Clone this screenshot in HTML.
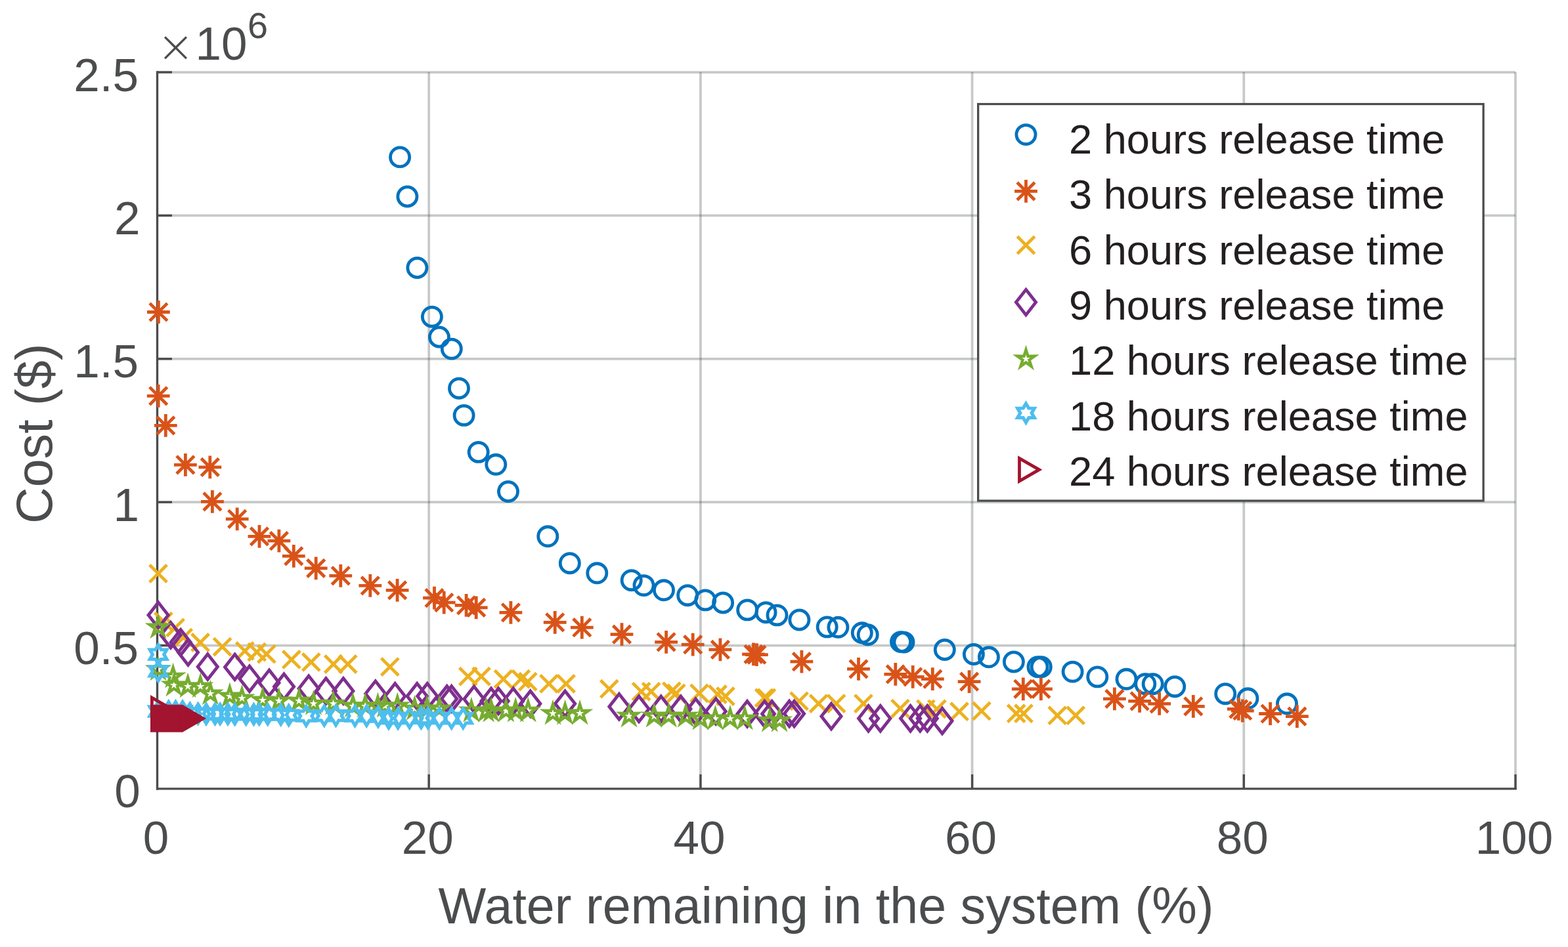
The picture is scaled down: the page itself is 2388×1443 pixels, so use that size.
<!DOCTYPE html><html><head><meta charset="utf-8"><title>Cost vs water remaining</title><style>html,body{margin:0;padding:0;background:#fff;}svg{display:block;}text{font-family:"Liberation Sans",sans-serif;}</style></head><body>
<svg width="2388" height="1443" viewBox="0 0 2388 1443">

<defs>
<g id="mo"><circle r="14.55" fill="none" stroke-width="4.8"/></g>
<g id="ma"><path d="M0,-17.4V17.4M-17.4,0H17.4M-13.4,-13.4L13.4,13.4M-13.4,13.4L13.4,-13.4" fill="none" stroke-width="4.8"/></g>
<g id="mx"><path d="M-13.2,-13.2L13.2,13.2M-13.2,13.2L13.2,-13.2" fill="none" stroke-width="4.8"/></g>
<g id="md"><path d="M0,-19.3L15.1,0L0,19.3L-15.1,0Z" fill="none" stroke-width="4.8" stroke-linejoin="miter"/></g>
<g id="mp"><polygon points="0.00,-14.00 3.06,-4.21 13.31,-4.33 4.95,1.61 8.23,11.33 0.00,5.20 -8.23,11.33 -4.95,1.61 -13.31,-4.33 -3.06,-4.21" fill="none" stroke-width="4.4" stroke-linejoin="miter" stroke-miterlimit="10"/></g>
<g id="mh"><polygon transform="scale(1.03,1)" points="0.00,-14.40 4.20,-7.27 12.47,-7.20 8.40,0.00 12.47,7.20 4.20,7.27 0.00,14.40 -4.20,7.27 -12.47,7.20 -8.40,0.00 -12.47,-7.20 -4.20,-7.27" fill="none" stroke-width="5.0" stroke-linejoin="miter" stroke-miterlimit="10"/></g>
<g id="mt"><path d="M20,0L-10,-17.32L-10,17.32Z" fill="none" stroke-width="4.8" stroke-linejoin="miter" stroke-miterlimit="10"/></g>
</defs>
<rect width="2388" height="1443" fill="#fff"/>
<g stroke="#4b4c4e" stroke-opacity="0.31" stroke-width="3.7"><line x1="653.20" y1="110.05" x2="653.20" y2="1201.90"/><line x1="1066.90" y1="110.05" x2="1066.90" y2="1201.90"/><line x1="1480.60" y1="110.05" x2="1480.60" y2="1201.90"/><line x1="1894.30" y1="110.05" x2="1894.30" y2="1201.90"/><line x1="2308.00" y1="110.05" x2="2308.00" y2="1201.90"/><line x1="239.50" y1="983.53" x2="2308.00" y2="983.53"/><line x1="239.50" y1="765.16" x2="2308.00" y2="765.16"/><line x1="239.50" y1="546.79" x2="2308.00" y2="546.79"/><line x1="239.50" y1="328.42" x2="2308.00" y2="328.42"/><line x1="239.50" y1="110.05" x2="2308.00" y2="110.05"/></g>
<g stroke="#4b4c4e" stroke-width="3.4" stroke-linecap="butt"><line x1="239.50" y1="108.25" x2="239.50" y2="1203.80"/><line x1="238.00" y1="1201.90" x2="2309.90" y2="1201.90"/><line x1="653.20" y1="1201.90" x2="653.20" y2="1179.90"/><line x1="1066.90" y1="1201.90" x2="1066.90" y2="1179.90"/><line x1="1480.60" y1="1201.90" x2="1480.60" y2="1179.90"/><line x1="1894.30" y1="1201.90" x2="1894.30" y2="1179.90"/><line x1="2308.00" y1="1201.90" x2="2308.00" y2="1179.90"/><line x1="239.50" y1="983.53" x2="262.00" y2="983.53"/><line x1="239.50" y1="765.16" x2="262.00" y2="765.16"/><line x1="239.50" y1="546.79" x2="262.00" y2="546.79"/><line x1="239.50" y1="328.42" x2="262.00" y2="328.42"/><line x1="239.50" y1="110.05" x2="262.00" y2="110.05"/></g>
<g fill="#4b4c4e" font-size="71"><text x="237.5" y="1300.5" text-anchor="middle">0</text><text x="651.2" y="1300.5" text-anchor="middle">20</text><text x="1064.9" y="1300.5" text-anchor="middle">40</text><text x="1478.6" y="1300.5" text-anchor="middle">60</text><text x="1892.3" y="1300.5" text-anchor="middle">80</text><text x="2306.0" y="1300.5" text-anchor="middle">100</text><text x="213.7" y="1230.4" text-anchor="end">0</text><text x="211.0" y="1012.0" text-anchor="end">0.5</text><text x="212.0" y="793.7" text-anchor="end">1</text><text x="211.0" y="575.3" text-anchor="end">1.5</text><text x="213.5" y="356.9" text-anchor="end">2</text><text x="211.0" y="138.5" text-anchor="end">2.5</text></g>
<text x="1258" y="1406.8" text-anchor="middle" font-size="77.2" fill="#4b4c4e">Water remaining in the system (%)</text>
<text transform="translate(78.5,660.8) rotate(-90)" text-anchor="middle" font-size="77.2" fill="#4b4c4e">Cost ($)</text>
<text x="239" y="94" font-size="68" fill="#4b4c4e" style="font-family:&quot;DejaVu Sans&quot;,sans-serif;font-weight:200">×</text>
<text x="297.5" y="91.3" font-size="71" fill="#4b4c4e">10</text>
<text x="377" y="57.5" font-size="55.7" fill="#4b4c4e">6</text>
<g stroke="#0072bd" fill="none"><use href="#mo" x="609.1" y="239.4"/><use href="#mo" x="620.4" y="299.5"/><use href="#mo" x="635.4" y="408.0"/><use href="#mo" x="657.9" y="482.7"/><use href="#mo" x="668.9" y="513.5"/><use href="#mo" x="687.8" y="531.6"/><use href="#mo" x="699.0" y="591.7"/><use href="#mo" x="706.6" y="632.9"/><use href="#mo" x="728.7" y="688.9"/><use href="#mo" x="755.3" y="707.8"/><use href="#mo" x="774.0" y="749.0"/><use href="#mo" x="834.3" y="817.3"/><use href="#mo" x="867.8" y="858.2"/><use href="#mo" x="909.3" y="873.3"/><use href="#mo" x="961.7" y="884.2"/><use href="#mo" x="980.5" y="892.1"/><use href="#mo" x="1011.0" y="899.3"/><use href="#mo" x="1047.2" y="907.2"/><use href="#mo" x="1074.2" y="914.4"/><use href="#mo" x="1101.1" y="918.5"/><use href="#mo" x="1138.2" y="929.4"/><use href="#mo" x="1166.5" y="933.2"/><use href="#mo" x="1183.5" y="937.4"/><use href="#mo" x="1217.4" y="944.5"/><use href="#mo" x="1259.7" y="955.4"/><use href="#mo" x="1276.4" y="955.8"/><use href="#mo" x="1312.8" y="964.3"/><use href="#mo" x="1321.7" y="967.2"/><use href="#mo" x="1372.0" y="978.1"/><use href="#mo" x="1376.5" y="978.6"/><use href="#mo" x="1438.8" y="990.0"/><use href="#mo" x="1482.9" y="997.0"/><use href="#mo" x="1505.9" y="1001.3"/><use href="#mo" x="1543.9" y="1008.5"/><use href="#mo" x="1580.5" y="1016.3"/><use href="#mo" x="1585.8" y="1016.3"/><use href="#mo" x="1633.6" y="1023.6"/><use href="#mo" x="1671.3" y="1031.4"/><use href="#mo" x="1715.5" y="1034.8"/><use href="#mo" x="1744.3" y="1042.2"/><use href="#mo" x="1755.7" y="1042.2"/><use href="#mo" x="1789.2" y="1046.2"/><use href="#mo" x="1866.2" y="1057.2"/><use href="#mo" x="1900.4" y="1064.3"/><use href="#mo" x="1960.0" y="1072.3"/></g>
<g stroke="#d95319" fill="none"><use href="#ma" x="241.4" y="475.5"/><use href="#ma" x="241.2" y="603.3"/><use href="#ma" x="252.3" y="648.4"/><use href="#ma" x="282.4" y="708.3"/><use href="#ma" x="319.8" y="711.9"/><use href="#ma" x="323.4" y="764.3"/><use href="#ma" x="361.2" y="790.8"/><use href="#ma" x="395.0" y="817.4"/><use href="#ma" x="424.9" y="824.2"/><use href="#ma" x="447.3" y="847.4"/><use href="#ma" x="481.2" y="865.9"/><use href="#ma" x="518.8" y="877.3"/><use href="#ma" x="563.8" y="892.4"/><use href="#ma" x="605.1" y="899.4"/><use href="#ma" x="661.5" y="911.2"/><use href="#ma" x="676.2" y="918.2"/><use href="#ma" x="710.1" y="922.3"/><use href="#ma" x="725.2" y="925.9"/><use href="#ma" x="777.9" y="933.3"/><use href="#ma" x="845.2" y="948.3"/><use href="#ma" x="886.3" y="956.2"/><use href="#ma" x="947.0" y="966.7"/><use href="#ma" x="1014.6" y="978.3"/><use href="#ma" x="1055.2" y="982.2"/><use href="#ma" x="1096.9" y="989.9"/><use href="#ma" x="1147.5" y="996.8"/><use href="#ma" x="1152.4" y="997.7"/><use href="#ma" x="1220.9" y="1008.2"/><use href="#ma" x="1307.5" y="1019.4"/><use href="#ma" x="1363.8" y="1027.4"/><use href="#ma" x="1390.2" y="1031.4"/><use href="#ma" x="1420.3" y="1034.7"/><use href="#ma" x="1476.1" y="1038.6"/><use href="#ma" x="1558.3" y="1049.8"/><use href="#ma" x="1585.4" y="1049.8"/><use href="#ma" x="1697.4" y="1064.9"/><use href="#ma" x="1735.6" y="1068.3"/><use href="#ma" x="1765.7" y="1072.3"/><use href="#ma" x="1817.3" y="1076.3"/><use href="#ma" x="1886.3" y="1080.4"/><use href="#ma" x="1892.3" y="1083.0"/><use href="#ma" x="1934.6" y="1087.5"/><use href="#ma" x="1975.4" y="1091.7"/></g>
<g stroke="#edb120" fill="none"><use href="#mx" x="241.0" y="873.9"/><use href="#mx" x="248.9" y="946.7"/><use href="#mx" x="267.1" y="956.3"/><use href="#mx" x="279.2" y="971.6"/><use href="#mx" x="305.1" y="978.9"/><use href="#mx" x="338.6" y="985.6"/><use href="#mx" x="372.9" y="991.9"/><use href="#mx" x="391.2" y="993.6"/><use href="#mx" x="405.9" y="996.6"/><use href="#mx" x="443.9" y="1004.9"/><use href="#mx" x="473.8" y="1008.9"/><use href="#mx" x="507.8" y="1012.0"/><use href="#mx" x="529.7" y="1012.0"/><use href="#mx" x="593.8" y="1016.1"/><use href="#mx" x="712.9" y="1030.7"/><use href="#mx" x="733.0" y="1030.7"/><use href="#mx" x="766.6" y="1034.7"/><use href="#mx" x="793.3" y="1034.7"/><use href="#mx" x="803.8" y="1038.7"/><use href="#mx" x="836.0" y="1041.8"/><use href="#mx" x="862.1" y="1041.8"/><use href="#mx" x="927.8" y="1049.7"/><use href="#mx" x="976.6" y="1053.8"/><use href="#mx" x="991.7" y="1053.8"/><use href="#mx" x="1022.8" y="1053.3"/><use href="#mx" x="1029.8" y="1056.3"/><use href="#mx" x="1065.0" y="1056.3"/><use href="#mx" x="1093.0" y="1058.0"/><use href="#mx" x="1104.9" y="1061.0"/><use href="#mx" x="1163.7" y="1063.3"/><use href="#mx" x="1167.4" y="1063.3"/><use href="#mx" x="1217.1" y="1068.3"/><use href="#mx" x="1246.6" y="1072.1"/><use href="#mx" x="1273.6" y="1072.1"/><use href="#mx" x="1315.0" y="1072.1"/><use href="#mx" x="1371.0" y="1079.6"/><use href="#mx" x="1409.9" y="1080.3"/><use href="#mx" x="1426.9" y="1080.3"/><use href="#mx" x="1461.0" y="1084.2"/><use href="#mx" x="1494.9" y="1083.4"/><use href="#mx" x="1547.7" y="1087.2"/><use href="#mx" x="1559.0" y="1087.2"/><use href="#mx" x="1610.3" y="1090.2"/><use href="#mx" x="1638.2" y="1090.2"/></g>
<g stroke="#7e2f8e" fill="none"><use href="#md" x="241.1" y="937.3"/><use href="#md" x="260.0" y="967.8"/><use href="#md" x="275.2" y="978.8"/><use href="#md" x="286.5" y="994.0"/><use href="#md" x="316.3" y="1016.0"/><use href="#md" x="357.6" y="1016.4"/><use href="#md" x="380.0" y="1034.3"/><use href="#md" x="410.0" y="1040.4"/><use href="#md" x="432.5" y="1046.2"/><use href="#md" x="470.2" y="1049.3"/><use href="#md" x="496.4" y="1052.9"/><use href="#md" x="522.9" y="1052.9"/><use href="#md" x="571.8" y="1057.1"/><use href="#md" x="601.7" y="1060.7"/><use href="#md" x="635.2" y="1060.7"/><use href="#md" x="650.8" y="1060.7"/><use href="#md" x="680.7" y="1064.7"/><use href="#md" x="687.7" y="1064.7"/><use href="#md" x="721.9" y="1065.2"/><use href="#md" x="748.0" y="1068.2"/><use href="#md" x="759.1" y="1068.2"/><use href="#md" x="781.7" y="1068.2"/><use href="#md" x="807.8" y="1072.2"/><use href="#md" x="860.6" y="1072.2"/><use href="#md" x="942.9" y="1076.7"/><use href="#md" x="973.1" y="1080.2"/><use href="#md" x="1006.7" y="1080.2"/><use href="#md" x="1036.9" y="1080.2"/><use href="#md" x="1059.5" y="1084.2"/><use href="#md" x="1090.2" y="1083.9"/><use href="#md" x="1138.0" y="1087.8"/><use href="#md" x="1164.4" y="1087.8"/><use href="#md" x="1175.7" y="1087.8"/><use href="#md" x="1202.1" y="1087.5"/><use href="#md" x="1209.6" y="1087.5"/><use href="#md" x="1266.0" y="1091.5"/><use href="#md" x="1322.6" y="1094.7"/><use href="#md" x="1340.8" y="1094.7"/><use href="#md" x="1386.6" y="1094.7"/><use href="#md" x="1401.3" y="1094.7"/><use href="#md" x="1412.3" y="1094.7"/><use href="#md" x="1435.0" y="1098.5"/></g>
<g stroke="#77ac30" fill="none"><use href="#mp" x="241.0" y="956.0"/><use href="#mp" x="241.0" y="1020.0"/><use href="#mp" x="263.6" y="1031.1"/><use href="#mp" x="265.0" y="1044.0"/><use href="#mp" x="286.1" y="1046.0"/><use href="#mp" x="305.2" y="1046.0"/><use href="#mp" x="320.4" y="1057.0"/><use href="#mp" x="349.9" y="1060.9"/><use href="#mp" x="368.5" y="1064.0"/><use href="#mp" x="400.0" y="1067.0"/><use href="#mp" x="424.7" y="1068.1"/><use href="#mp" x="455.3" y="1068.1"/><use href="#mp" x="477.5" y="1072.3"/><use href="#mp" x="507.6" y="1072.3"/><use href="#mp" x="537.5" y="1075.9"/><use href="#mp" x="556.2" y="1075.9"/><use href="#mp" x="575.4" y="1075.9"/><use href="#mp" x="586.3" y="1075.9"/><use href="#mp" x="605.3" y="1075.9"/><use href="#mp" x="631.5" y="1080.1"/><use href="#mp" x="650.4" y="1080.1"/><use href="#mp" x="669.1" y="1080.2"/><use href="#mp" x="717.9" y="1083.2"/><use href="#mp" x="740.5" y="1083.2"/><use href="#mp" x="748.0" y="1083.2"/><use href="#mp" x="770.7" y="1083.2"/><use href="#mp" x="785.2" y="1083.2"/><use href="#mp" x="804.3" y="1083.2"/><use href="#mp" x="842.0" y="1087.2"/><use href="#mp" x="860.6" y="1087.2"/><use href="#mp" x="883.1" y="1087.1"/><use href="#mp" x="958.0" y="1091.2"/><use href="#mp" x="996.2" y="1091.2"/><use href="#mp" x="1018.3" y="1091.2"/><use href="#mp" x="1044.4" y="1091.2"/><use href="#mp" x="1067.0" y="1095.2"/><use href="#mp" x="1089.4" y="1095.1"/><use href="#mp" x="1112.0" y="1095.1"/><use href="#mp" x="1134.3" y="1095.1"/><use href="#mp" x="1172.3" y="1098.1"/><use href="#mp" x="1187.0" y="1098.1"/></g>
<g stroke="#4dbeee" fill="none"><use href="#mh" x="241.1" y="997.2"/><use href="#mh" x="241.1" y="1022.8"/><use href="#mh" x="240.8" y="1084.0"/><use href="#mh" x="256.8" y="1084.0"/><use href="#mh" x="267.4" y="1084.0"/><use href="#mh" x="278.0" y="1084.0"/><use href="#mh" x="289.2" y="1087.0"/><use href="#mh" x="301.6" y="1087.5"/><use href="#mh" x="314.0" y="1088.0"/><use href="#mh" x="327.5" y="1088.0"/><use href="#mh" x="335.2" y="1088.0"/><use href="#mh" x="347.0" y="1088.0"/><use href="#mh" x="357.6" y="1088.5"/><use href="#mh" x="374.7" y="1088.5"/><use href="#mh" x="386.4" y="1088.5"/><use href="#mh" x="394.7" y="1088.5"/><use href="#mh" x="407.7" y="1088.5"/><use href="#mh" x="427.7" y="1089.0"/><use href="#mh" x="439.8" y="1089.9"/><use href="#mh" x="466.3" y="1091.0"/><use href="#mh" x="493.8" y="1090.5"/><use href="#mh" x="511.5" y="1090.5"/><use href="#mh" x="540.6" y="1091.0"/><use href="#mh" x="558.3" y="1091.0"/><use href="#mh" x="575.9" y="1092.0"/><use href="#mh" x="592.0" y="1094.6"/><use href="#mh" x="606.1" y="1094.6"/><use href="#mh" x="623.7" y="1094.1"/><use href="#mh" x="641.4" y="1094.1"/><use href="#mh" x="651.8" y="1094.1"/><use href="#mh" x="669.1" y="1094.5"/><use href="#mh" x="687.7" y="1094.5"/><use href="#mh" x="705.3" y="1094.5"/></g>
<g stroke="#a2142f" fill="none"><use href="#mt" x="241.4" y="1080.5"/><use href="#mt" x="241.4" y="1094.8"/><use href="#mt" x="243.4" y="1094.8"/><use href="#mt" x="245.4" y="1094.8"/><use href="#mt" x="247.4" y="1094.8"/><use href="#mt" x="249.4" y="1094.8"/><use href="#mt" x="251.4" y="1094.8"/><use href="#mt" x="253.4" y="1094.8"/><use href="#mt" x="255.4" y="1094.8"/><use href="#mt" x="257.4" y="1094.8"/><use href="#mt" x="259.4" y="1094.8"/><use href="#mt" x="261.4" y="1094.8"/><use href="#mt" x="263.4" y="1094.8"/><use href="#mt" x="265.4" y="1094.8"/><use href="#mt" x="267.4" y="1094.8"/><use href="#mt" x="269.4" y="1094.8"/><use href="#mt" x="271.4" y="1094.8"/><use href="#mt" x="273.4" y="1094.8"/><use href="#mt" x="275.4" y="1094.8"/><use href="#mt" x="277.4" y="1094.8"/><use href="#mt" x="279.4" y="1094.8"/><use href="#mt" x="281.4" y="1094.8"/><use href="#mt" x="283.4" y="1094.8"/><use href="#mt" x="285.4" y="1094.8"/><use href="#mt" x="287.4" y="1094.8"/><use href="#mt" x="289.4" y="1094.8"/></g>
<rect x="1489.65" y="158.55" width="769.5" height="604.5" fill="#fff" stroke="#4b4c4e" stroke-width="3.3"/>
<g stroke="#0072bd" fill="none"><use href="#mo" x="1562.5" y="205.1"/></g>
<text x="1628" y="234.1" font-size="63.2" fill="#231f20">2 hours release time</text>
<g stroke="#d95319" fill="none"><use href="#ma" x="1562.5" y="291.4"/></g>
<text x="1628" y="318.2" font-size="63.2" fill="#231f20">3 hours release time</text>
<g stroke="#edb120" fill="none"><use href="#mx" x="1562.5" y="373.5"/></g>
<text x="1628" y="403.1" font-size="63.2" fill="#231f20">6 hours release time</text>
<g stroke="#7e2f8e" fill="none"><use href="#md" x="1562.5" y="460.6"/></g>
<text x="1628" y="487.2" font-size="63.2" fill="#231f20">9 hours release time</text>
<g stroke="#77ac30" fill="none"><use href="#mp" x="1562.5" y="546.95"/></g>
<text x="1628" y="570.8" font-size="63.2" fill="#231f20">12 hours release time</text>
<g stroke="#4dbeee" fill="none"><use href="#mh" x="1562.5" y="629.3"/></g>
<text x="1628" y="655.7" font-size="63.2" fill="#231f20">18 hours release time</text>
<g stroke="#a2142f" fill="none"><use href="#mt" x="1562.5" y="715.7"/></g>
<text x="1628" y="739.8" font-size="63.2" fill="#231f20">24 hours release time</text>
</svg></body></html>
